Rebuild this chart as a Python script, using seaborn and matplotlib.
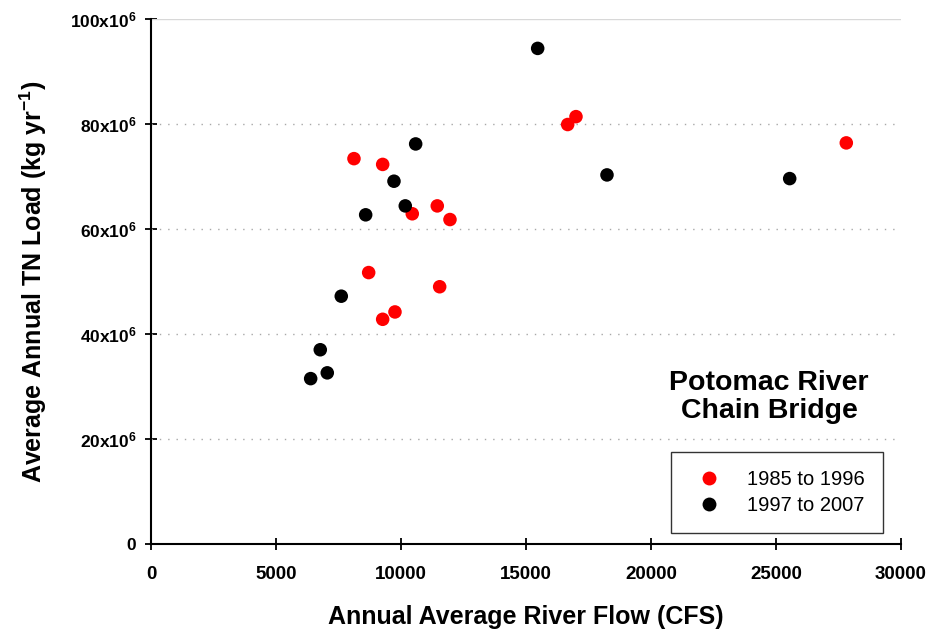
import matplotlib
matplotlib.use("Agg")
import matplotlib.pyplot as plt
import seaborn as sns
import pandas as pd
from matplotlib.lines import Line2D

# Data (flow in CFS, load in 10^6 kg/yr)
flow_85_96 = [8120, 9268, 10452, 11452, 11960, 8708, 11548, 9760, 9268, 16668, 17000, 27812]
load_85_96 = [73.4, 72.3, 62.9, 64.4, 61.8, 51.7, 49.0, 44.2, 42.8, 79.9, 81.4, 76.4]
flow_97_07 = [15468, 10588, 9720, 10172, 8588, 7612, 6772, 7052, 6388, 18240, 25548]
load_97_07 = [94.4, 76.2, 69.1, 64.4, 62.7, 47.2, 37.0, 32.6, 31.5, 70.3, 69.6]
periods = ["1985 to 1996", "1997 to 2007"]
x_ticks = [0, 5000, 10000, 15000, 20000, 25000, 30000]
y_ticks = [0, 20, 40, 60, 80, 100]
y_tick_labels = ["0", r"20x10$^{6}$", r"40x10$^{6}$", r"60x10$^{6}$", r"80x10$^{6}$", r"100x10$^{6}$"]

df = pd.DataFrame({
    "flow": flow_85_96 + flow_97_07,
    "load": [v * 1e6 for v in load_85_96 + load_97_07],
    "period": [periods[0]] * len(flow_85_96) + [periods[1]] * len(flow_97_07),
})

sns.set_style("white")
plt.rcParams["font.family"] = ["Liberation Sans", "DejaVu Sans"]
plt.rcParams["text.color"] = "black"
plt.rcParams["axes.labelcolor"] = "black"
plt.rcParams["xtick.color"] = "black"
plt.rcParams["ytick.color"] = "black"
plt.rcParams["mathtext.fontset"] = "custom"
plt.rcParams["mathtext.rm"] = "Liberation Sans:bold"
plt.rcParams["mathtext.it"] = "Liberation Sans:bold"
plt.rcParams["mathtext.bf"] = "Liberation Sans:bold"
plt.rcParams["mathtext.default"] = "rm"

fig = plt.figure(figsize=(9.33, 6.33), dpi=100)
ax = fig.add_axes([0.1618, 0.1406, 0.8039, 0.8294])

sns.scatterplot(data=df, x="flow", y="load", hue="period",
                palette={periods[0]: "#ff0000", periods[1]: "#000000"},
                s=95, edgecolor="none", linewidth=0, ax=ax, legend=False, zorder=3)

ax.set_xlim(0, 30000)
ax.set_ylim(0, 100e6)
ax.set_xticks(x_ticks)
ax.set_xticklabels([str(t) for t in x_ticks], fontsize=13.5, fontweight="bold")
ax.set_yticks([v * 1e6 for v in y_ticks])
ax.set_yticklabels(y_tick_labels, fontsize=12.5, fontweight="bold")

for g in y_ticks[1:-1]:
    ax.axhline(g * 1e6, color="#a8a8a8", linestyle=(0, (1, 5)), linewidth=1.0, zorder=1)
ax.axhline(100e6, color="#d8d8d8", linewidth=1.0, zorder=1)

for side in ["top", "right"]:
    ax.spines[side].set_visible(False)
for side in ["left", "bottom"]:
    ax.spines[side].set_color("black")
    ax.spines[side].set_linewidth(1.5)
ax.tick_params(axis="both", which="major", bottom=True, left=True, direction="inout",
               length=9, width=1.3, color="black", labelcolor="black", pad=6)
ax.tick_params(axis="x", pad=11)

ax.set_xlabel("Annual Average River Flow (CFS)", fontsize=18, fontweight="bold",
              labelpad=16, color="black")
ax.set_ylabel(r"Average Annual TN Load (kg yr$^{-1}$)", fontsize=18, fontweight="bold",
              labelpad=15, color="black")

ax.text(0.824, 0.28, "Potomac River\nChain Bridge", transform=ax.transAxes,
        ha="center", va="center", fontsize=20.5, fontweight="bold", linespacing=1.1,
        color="black")

handles = [Line2D([], [], marker="o", linestyle="none", markersize=10,
                  markerfacecolor=c, markeredgecolor="none") for c in ["#ff0000", "#000000"]]
leg = ax.legend(handles, periods, loc="lower right", bbox_to_anchor=(0.976, 0.021),
                fontsize=14.5, frameon=True, fancybox=False, edgecolor="black",
                handletextpad=0.9, handlelength=2.0, borderpad=0.9, labelspacing=0.35,
                borderaxespad=0)
leg.get_frame().set_linewidth(1.0)
for t in leg.get_texts():
    t.set_color("black")

fig.savefig("out.png", dpi=100)
